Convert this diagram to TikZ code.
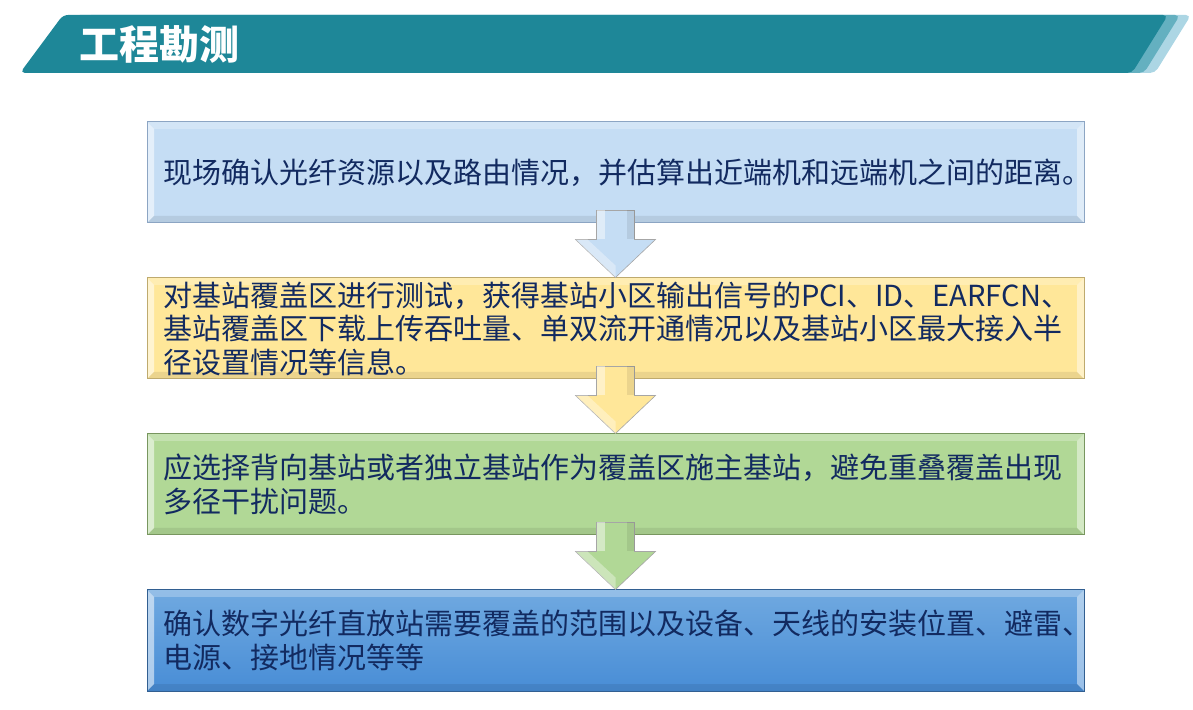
\documentclass[tikz,border=0pt]{standalone}
\usepackage{fontspec}
\setmainfont{Noto Sans CJK SC}
\usepackage{xcolor}
\definecolor{head1}{RGB}{30,135,152}
\definecolor{head2}{RGB}{100,176,192}
\definecolor{head3}{RGB}{172,214,228}
\definecolor{ink}{RGB}{18,42,96}
\definecolor{sky}{RGB}{197,221,244}
\definecolor{skyline}{RGB}{140,165,195}
\definecolor{sand}{RGB}{255,231,153}
\definecolor{sandline}{RGB}{190,170,110}
\definecolor{leaf}{RGB}{177,216,150}
\definecolor{leafline}{RGB}{120,150,95}
\definecolor{seatop}{RGB}{112,169,224}
\definecolor{seabot}{RGB}{72,141,214}
\definecolor{sealine}{RGB}{50,95,145}
\usepackage{tikz}
\usetikzlibrary{positioning, calc}
\tikzset{bevel/.style={path picture={
    \path (path picture bounding box.south west) coordinate (bl)
          (path picture bounding box.north east) coordinate (tr);
    \fill[white,opacity=.55] (bl) -- (bl|-tr) -- ($(bl|-tr)+(7pt,-7pt)$) -- ($(bl)+(7pt,7pt)$) -- cycle;
    \fill[white,opacity=.25] (bl|-tr) -- (tr) -- ($(tr)+(-7pt,-7pt)$) -- ($(bl|-tr)+(7pt,-7pt)$) -- cycle;
    \fill[white,opacity=.45] (tr) -- (tr|-bl) -- ($(tr|-bl)+(-7pt,7pt)$) -- ($(tr)+(-7pt,-7pt)$) -- cycle;
    \fill[black,opacity=.08] (tr|-bl) -- (bl) -- ($(bl)+(7pt,7pt)$) -- ($(tr|-bl)+(-7pt,7pt)$) -- cycle;
}}}
\tikzstyle{box} = [
    rectangle,
    minimum width=937pt,
    minimum height=101pt,
    text width=905pt,
    inner xsep=16pt,
    inner ysep=0pt,
    align=left,
    text=ink,
    font=\fontsize{29}{33.5}\selectfont,
    line width=1pt,
    bevel,
]
\tikzstyle{skybox} = [box, fill=sky, draw=skyline]
\tikzstyle{sandbox} = [box, fill=sand, draw=sandline]
\tikzstyle{leafbox} = [box, fill=leaf, draw=leafline]
\tikzstyle{seabox} = [box, top color=seatop, bottom color=seabot, draw=sealine]
\tikzstyle{blockarrow} = [line width=.6pt, draw=black!35]
\tikzstyle{title} = [
    anchor=west,
    text=white,
    font=\fontsize{40}{40}\selectfont\bfseries,
]

\begin{document}
\begin{tikzpicture}[x=1pt,y=1pt]
    \useasboundingbox (0,0) rectangle (1193,709);

    % header
    \fill[head3, rounded corners=5pt] (43,636) -- (86,694) -- (1191,694) -- (1155,636) -- cycle;
    \fill[head2, rounded corners=5pt] (32,636) -- (75,694) -- (1180,694) -- (1144,636) -- cycle;
    \fill[head1, rounded corners=5pt] (20,636) -- (63,694) -- (1168,694) -- (1132,636) -- cycle;
    \node (title) at (76,665) [title] {工程勘测};

    % boxes
    \node (box1) at (615.5,536.5) [skybox] {现场确认光纤资源以及路由情况，并估算出近端机和远端机之间的距离。};
    \node (box2) [sandbox, below=54pt of box1] {对基站覆盖区进行测试，获得基站小区输出信号的PCI、ID、EARFCN、\\基站覆盖区下载上传吞吐量、单双流开通情况以及基站小区最大接入半\\径设置情况等信息。};
    \node (box3) [leafbox, below=54pt of box2] {应选择背向基站或者独立基站作为覆盖区施主基站，避免重叠覆盖出现\\多径干扰问题。};
    \node (box4) [seabox, below=54pt of box3] {确认数字光纤直放站需要覆盖的范围以及设备、天线的安装位置、避雷、\\电源、接地情况等等};

    % arrows
    \foreach \a/\b/\col in {box1/box2/sky, box2/box3/sand, box3/box4/leaf} {
        \filldraw[blockarrow, fill=\col] ($(\a.south)+(-19,13)$) -- ($(\a.south)+(19,13)$)
            -- ($(\a.south)+(19,-16)$) -- ($(\a.south)+(40,-16)$) -- (\b.north)
            -- ($(\a.south)+(-40,-16)$) -- ($(\a.south)+(-19,-16)$) -- cycle;
        \fill[white, opacity=.45] ($(\a.south)+(-19,13)$) -- ($(\a.south)+(-11,13)$)
            -- ($(\a.south)+(-11,-16)$) -- ($(\a.south)+(-19,-16)$) -- cycle;
        \fill[white, opacity=.35] ($(\a.south)+(-40,-16)$) -- ($(\a.south)+(-28,-16)$)
            -- ($(\b.north)+(0,12)$) -- (\b.north) -- cycle;
        \fill[black, opacity=.08] ($(\a.south)+(11,13)$) -- ($(\a.south)+(19,13)$)
            -- ($(\a.south)+(19,-16)$) -- ($(\a.south)+(11,-16)$) -- cycle;
    }
\end{tikzpicture}
\end{document}
